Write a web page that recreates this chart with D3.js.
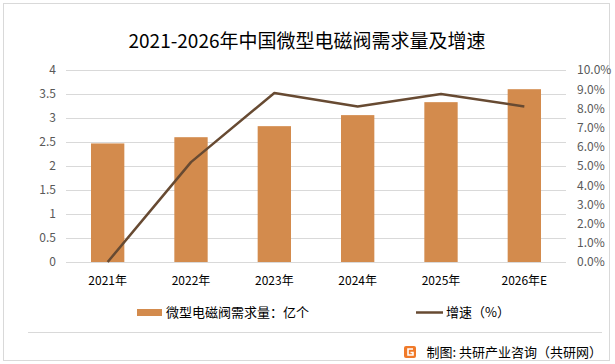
<!DOCTYPE html>
<html><head><meta charset="utf-8">
<script src="https://cdn.jsdelivr.net/npm/d3@7"></script>
<style>body{margin:0;background:#fff}svg{display:block}</style>
</head><body>
<svg id="c" width="615" height="364"></svg>
<script>
const categories = ["2021年","2022年","2023年","2024年","2025年","2026年E"];
const demand = [2.47, 2.60, 2.83, 3.06, 3.33, 3.60];
const growth = [0, 5.2, 8.8, 8.1, 8.75, 8.1];
const leftTicks = [0,0.5,1,1.5,2,2.5,3,3.5,4];
const rightTicks = [0,1,2,3,4,5,6,7,8,9,10];
const title = "2021-2026年中国微型电磁阀需求量及增速";
const barName = "微型电磁阀需求量：亿个";
const lineName = "增速（%）";
const source = "制图: 共研产业咨询（共研网）";

const font = "'Noto Sans CJK SC','Noto Sans',sans-serif";
const svg = d3.select("#c");
svg.append("rect").attr("x",3.5).attr("y",3.5).attr("width",606).attr("height",357)
  .attr("fill","#fff").attr("stroke","#d9d9d9");

const m = {l:66, r:566, t:70, b:262};
const x = d3.scaleBand().domain(categories).range([m.l,m.r]).paddingInner(0.6).paddingOuter(0.3);
const yL = d3.scaleLinear().domain([0,4]).range([m.b,m.t]);
const yR = d3.scaleLinear().domain([0,10]).range([m.b,m.t]);

// grid
svg.append("g").selectAll("line").data(leftTicks).join("line")
  .attr("x1",m.l).attr("x2",m.r).attr("y1",d=>yL(d)+0.5).attr("y2",d=>yL(d)+0.5)
  .attr("stroke","#d9d9d9").attr("stroke-width",1);

// left axis
const la = svg.append("g").attr("transform",`translate(${m.l-10},0)`)
  .call(d3.axisLeft(yL).tickValues(leftTicks).tickSize(0).tickPadding(0).tickFormat(d3.format("")));
la.select(".domain").remove();
la.selectAll("text").attr("font-family",font).attr("font-size",12).attr("fill","#595959");

// right axis
const ra = svg.append("g").attr("transform",`translate(${m.r+11},0)`)
  .call(d3.axisRight(yR).tickValues(rightTicks).tickSize(0).tickPadding(0).tickFormat(d=>d.toFixed(1)+"%"));
ra.select(".domain").remove();
ra.selectAll("text").attr("font-family",font).attr("font-size",12).attr("fill","#595959");

// bars
svg.append("g").selectAll("rect").data(demand).join("rect")
  .attr("x",(d,i)=>x(categories[i])).attr("width",x.bandwidth())
  .attr("y",d=>yL(d)).attr("height",d=>yL(0)-yL(d)).attr("fill","#D38B4D");

// line
const line = d3.line().x((d,i)=>x(categories[i])+x.bandwidth()/2).y(d=>yR(d));
svg.append("path").datum(growth).attr("d",line).attr("fill","none")
  .attr("stroke","#674A32").attr("stroke-width",2.5).attr("stroke-linejoin","round");

// x labels
const xa = svg.append("g").attr("transform",`translate(0,${m.b+8})`)
  .call(d3.axisBottom(x).tickSize(0).tickPadding(6));
xa.select(".domain").remove();
xa.selectAll("text").attr("font-family",font).attr("font-size",12).attr("fill","#000");

// title
svg.append("text").attr("x",307).attr("y",48).attr("text-anchor","middle")
  .attr("font-family",font).attr("font-size",19).attr("fill","#000").text(title);

// legend
svg.append("rect").attr("x",137).attr("y",309).attr("width",25).attr("height",7).attr("fill","#D38B4D");
svg.append("text").attr("x",166).attr("y",317).attr("font-family",font).attr("font-size",13).attr("fill","#000").text(barName);
svg.append("line").attr("x1",416).attr("x2",443).attr("y1",312.5).attr("y2",312.5).attr("stroke","#674A32").attr("stroke-width",2.5);
svg.append("text").attr("x",446).attr("y",317).attr("font-family",font).attr("font-size",13).attr("fill","#000").text(lineName);

// separator
svg.append("line").attr("x1",28).attr("x2",602).attr("y1",332.5).attr("y2",332.5).attr("stroke","#d9d9d9");

// source logo + text
const lg = svg.append("g").attr("transform","translate(404,346)");
lg.append("rect").attr("width",12).attr("height",12).attr("rx",2).attr("fill","#F07A2A");
lg.append("path").attr("d","M9,3 H4 V9 H9 V6.5 H6.5").attr("fill","none").attr("stroke","#fff").attr("stroke-width",1.6);
svg.append("text").attr("x",602).attr("y",357).attr("text-anchor","end")
  .attr("font-family",font).attr("font-size",13).attr("fill","#000").text(source);
</script>
</body></html>
